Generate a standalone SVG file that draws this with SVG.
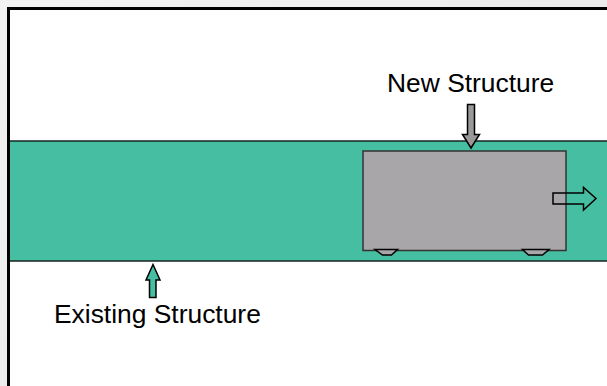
<svg xmlns="http://www.w3.org/2000/svg" width="607" height="386" viewBox="0 0 607 386">
  <defs>
    <linearGradient id="bg" x1="0" y1="0" x2="1" y2="1">
      <stop offset="0" stop-color="#f2f2f2"/>
      <stop offset="1" stop-color="#e6e6e6"/>
    </linearGradient>
  </defs>
  <style>
    .label { font-family: "Liberation Sans", Arial, sans-serif; font-size: 26.4px; fill: #000; }
    .edge { stroke: #14241f; stroke-width: 1.5; }
    .arrow { stroke: #000; stroke-width: 1.5; stroke-linejoin: miter; }
  </style>

  <!-- slide background and frame -->
  <rect x="0" y="0" width="607" height="386" fill="url(#bg)"/>
  <rect x="8.5" y="8.5" width="700" height="500" fill="#fff" stroke="#000" stroke-width="3"/>

  <!-- existing structure: the deck band -->
  <g id="existing-structure">
    <rect x="10" y="141" width="597" height="120" fill="#46bea1"/>
    <line class="edge" x1="10" y1="141" x2="607" y2="141"/>
    <line class="edge" x1="10" y1="261" x2="607" y2="261"/>
    <text class="label" x="54" y="323">Existing Structure</text>
  </g>

  <!-- new structure: the block sitting on the band -->
  <g id="new-structure">
    <rect x="363" y="151" width="203" height="99.5" fill="#a8a6a8" stroke="#333" stroke-width="1.5"/>
    <polygon points="375,249.5 397.5,249.5 391.5,255 382.5,255" fill="#a8a6a8" stroke="#000" stroke-width="1.5"/>
    <polygon points="522.5,249.5 549,249.5 542.5,255 528.5,255" fill="#a8a6a8" stroke="#000" stroke-width="1.5"/>
    <text class="label" x="387" y="92">New Structure</text>
  </g>

  <!-- pointer arrows -->
  <g id="connectors">
    <polygon class="arrow" fill="#999999" points="467.5,104.5 474.5,104.5 474.5,134.5 479.5,134.5 471,148 462.5,134.5 467.5,134.5"/>
    <polygon class="arrow" fill="#46bea1" points="149.5,297.5 156,297.5 156,280 160,280 153,264.5 146,280 149.5,280"/>
    <polygon class="arrow" fill="none" points="553,193 583.5,193 583.5,187.5 596,198.5 583.5,210 583.5,204 553,204"/>
  </g>
</svg>
